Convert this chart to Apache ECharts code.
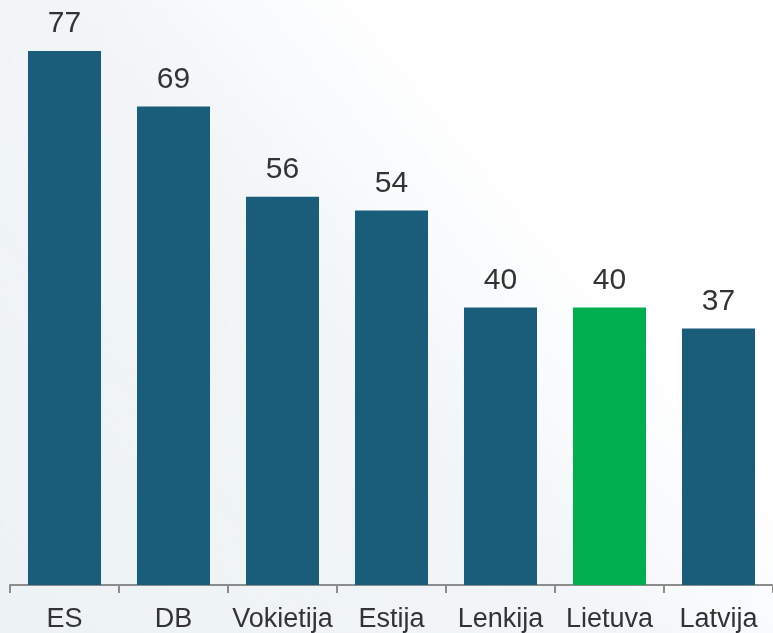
<!DOCTYPE html>
<html>
<head>
<meta charset="utf-8">
<script src="https://cdn.jsdelivr.net/npm/echarts@6/dist/echarts.min.js"></script>
<style>
  html, body { margin: 0; padding: 0; background: #fff; }
  #chart { width: 773px; height: 633px; }
</style>
</head>
<body>
<div id="chart"></div>
<script>
var categories = ['ES', 'DB', 'Vokietija', 'Estija', 'Lenkija', 'Lietuva', 'Latvija'];
var values = [77, 69, 56, 54, 40, 40, 37];
var highlightName = 'Lietuva';

var barBlue = '#195d7b';
var barGreen = '#00b050';

var chart = echarts.init(document.getElementById('chart'));

// 高亮立陶宛的柱子
var barData = [];
for (var i = 0; i < values.length; i++) {
    barData.push({
        value: values[i],
        itemStyle: { color: categories[i] === highlightName ? barGreen : barBlue }
    });
}

var option = {
    animation: false,
    backgroundColor: {
        type: 'linear',
        x: 0, y: 1, x2: 1, y2: 0,
        colorStops: [
            { offset: 0, color: '#edf2f4' },
            { offset: 0.45, color: '#f1f5f7' },
            { offset: 0.62, color: '#fbfcfd' },
            { offset: 0.7, color: '#ffffff' },
            { offset: 1, color: '#ffffff' }
        ]
    },
    grid: {
        left: 10,
        right: -3,
        top: 51,
        bottom: 46,
        containLabel: false
    },
    xAxis: {
        type: 'category',
        data: categories,
        axisLine: { show: true, lineStyle: { color: '#8c8c8c', width: 2 } },
        axisTick: { show: true, length: 8, lineStyle: { color: '#8c8c8c', width: 2 } },
        axisLabel: {
            interval: 0,
            color: '#333333',
            fontSize: 27,
            fontFamily: 'Liberation Sans, Arial, sans-serif',
            margin: 21
        }
    },
    yAxis: {
        type: 'value',
        min: 0,
        max: 77,
        show: false,
        splitLine: { show: false }
    },
    series: [{
        type: 'bar',
        data: barData,
        barCategoryGap: '33%',
        label: {
            show: true,
            position: 'top',
            distance: 12,
            color: '#333333',
            fontSize: 30,
            fontFamily: 'Liberation Sans, Arial, sans-serif'
        }
    }]
};

chart.setOption(option);
</script>
</body>
</html>
